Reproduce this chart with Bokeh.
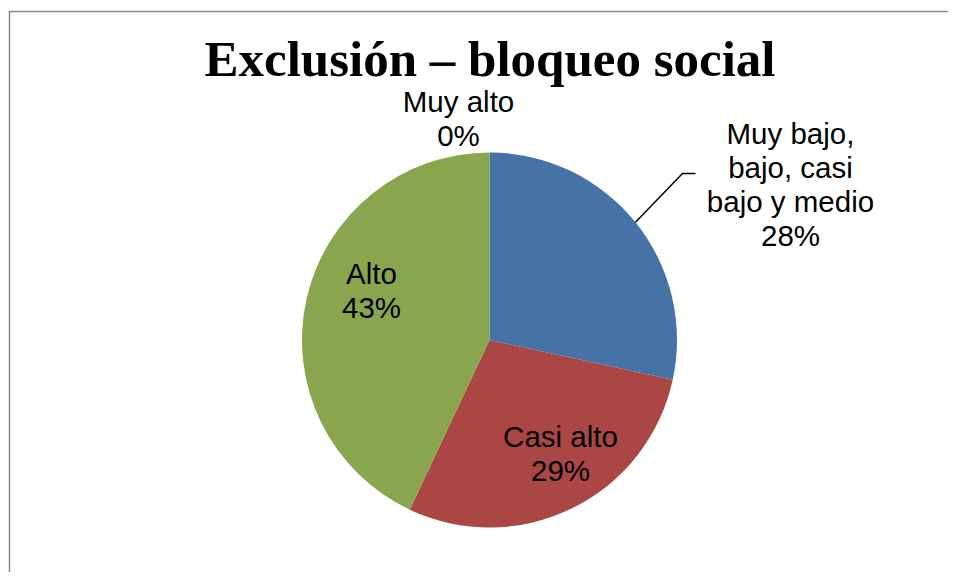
import numpy as np
from bokeh.plotting import figure
from bokeh.models import Range1d, ColumnDataSource
from bokeh.core.properties import value
from bokeh.embed import file_html
from bokeh.resources import INLINE

# ---- data ----
title_text = "Exclusión – bloqueo social"
categories = ["Muy bajo,\nbajo, casi\nbajo y medio", "Casi alto", "Alto", "Muy alto"]
shares = [28.4, 28.6, 43.0, 0.0]
colors = ["#4572A7", "#AA4643", "#89A54E", "#71588F"]

# ---- layout (pixel space of the figure) ----
W, H = 948, 572
cx, cy, r = 489, H - 339.5, 187.5

p = figure(width=W, height=H, output_backend="svg", toolbar_location=None,
           x_range=Range1d(0, W), y_range=Range1d(0, H), min_border=0,
           outline_line_color=None)
p.axis.visible = False
p.grid.visible = False

vals = np.array(shares, dtype=float)
frac = vals / vals.sum()
cum_end = np.cumsum(frac)
cum_start = cum_end - frac
start = np.radians(90 - cum_start * 360)
end = np.radians(90 - cum_end * 360)

keep = vals > 0
src = ColumnDataSource(dict(start=start[keep], end=end[keep],
                            color=[c for c, k in zip(colors, keep) if k]))
p.wedge(x=cx, y=cy, radius=r, start_angle="start", end_angle="end",
        direction="clock", fill_color="color", line_color=None, source=src)

# outer chart frame (left and top edges visible in view)
p.line(x=[9, 9, W], y=[0, H - 11, H - 11], line_color="#8a8a8a", line_width=1.5,
       line_cap="butt", line_join="miter")

# title
p.text(x=[489.5], y=[H - 58], text=[title_text], text_align="center",
       text_baseline="alphabetic", text_font=value("Liberation Serif"),
       text_font_style="bold", text_font_size="51px", text_color="black")

# data labels (centers in page pixels)
label_pos = {
    "Muy bajo,\nbajo, casi\nbajo y medio": (790, 184),
    "Casi alto": (560, 453),
    "Alto": (371, 290),
    "Muy alto": (458, 118),
}
lx, ly, lt = [], [], []
for c, v in zip(categories, shares):
    x, y = label_pos[c]
    lx.append(x)
    ly.append(H - y)
    lt.append(f"{c}\n{int(round(v))}%")
p.text(x=lx, y=ly, text=lt, text_align="center", text_baseline="middle",
       text_font=value("Liberation Sans"), text_font_size="29.5px",
       text_line_height=1.03, text_color="black")

# leader line for the first slice
ang = (start[0] + end[0]) / 2
ex, ey = cx + r * np.cos(ang), cy + r * np.sin(ang)
p.line(x=[ex, 682, 695], y=[ey, H - 173, H - 173], line_color="black", line_width=1.5)

open("out.html", "w").write(file_html(p, INLINE))
